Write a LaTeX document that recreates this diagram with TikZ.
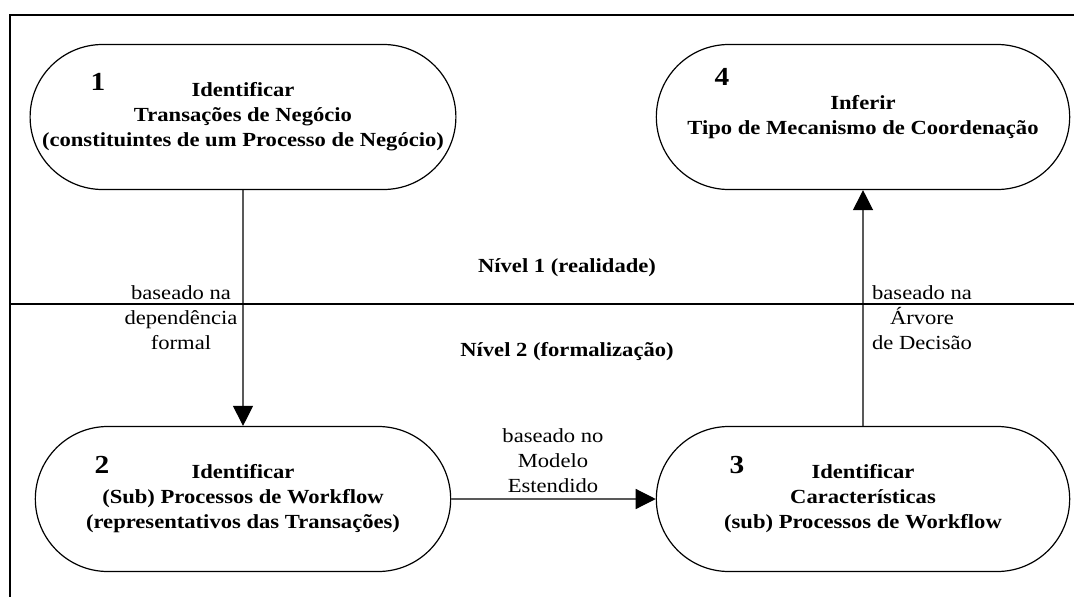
\documentclass[tikz,border=0pt]{standalone}
\usepackage{fontspec}
\setmainfont{Liberation Serif}[FakeStretch=1.13]
\usetikzlibrary{shapes.misc,arrows.meta}
\tikzset{
  etapa/.style={rounded rectangle, draw, line width=1.2pt, minimum width=422pt, minimum height=145pt, align=center, font=\fontsize{20}{25}\selectfont\bfseries},
  num/.style={font=\fontsize{26}{28}\selectfont\bfseries},
  rotulo/.style={align=center, font=\fontsize{20}{25}\selectfont},
  nivel/.style={font=\fontsize{20}{25}\selectfont\bfseries},
  seta/.style={line width=1.2pt, -{Triangle[length=20pt,width=20pt]}}
}
\begin{document}
\begin{tikzpicture}[x=1pt,y=-1pt]
	\useasboundingbox (0,0) rectangle (1074,597) ;
	\draw[line width=1.4pt] (1074,15) -- (10,15) -- (10,597) ;
	\draw[line width=1.4pt] (10,304) -- (1074,304) ;
		\node (n1)[etapa] at (243,117) {Identificar\\Transações de Negócio\\(constituintes de um Processo de Negócio)} ;
		\node (n4)[etapa, minimum width=420pt] at (863,117) {Inferir\\Tipo de Mecanismo de Coordenação} ;
		\node (n2)[etapa] at (243,499) {Identificar\\(Sub) Processos de Workflow\\(representativos das Transações)} ;
		\node (n3)[etapa, minimum width=420pt] at (863,499) {Identificar\\Características\\(sub) Processos de Workflow} ;
		\node (k1)[num] at (98,82) {1} ;
		\node (k4)[num] at (722,77) {4} ;
		\node (k2)[num] at (102,465) {2} ;
		\node (k3)[num] at (737,465) {3} ;
		\node (r1)[nivel] at (567,268) {Nível 1 (realidade)} ;
		\node (r2)[nivel] at (567,352) {Nível 2 (formalização)} ;
		\node (l12)[rotulo] at (181,318) {baseado na\\dependência\\formal} ;
		\node (l34)[rotulo] at (922,318) {baseado na\\Árvore\\de Decisão} ;
		\node (l23)[rotulo] at (553,461) {baseado no\\Modelo\\Estendido} ;
	\draw[seta] (n1) -- (n2) ;
	\draw[seta] (n2) -- (n3) ;
	\draw[seta] (n3) -- (n4) ;
\end{tikzpicture}
\end{document}
